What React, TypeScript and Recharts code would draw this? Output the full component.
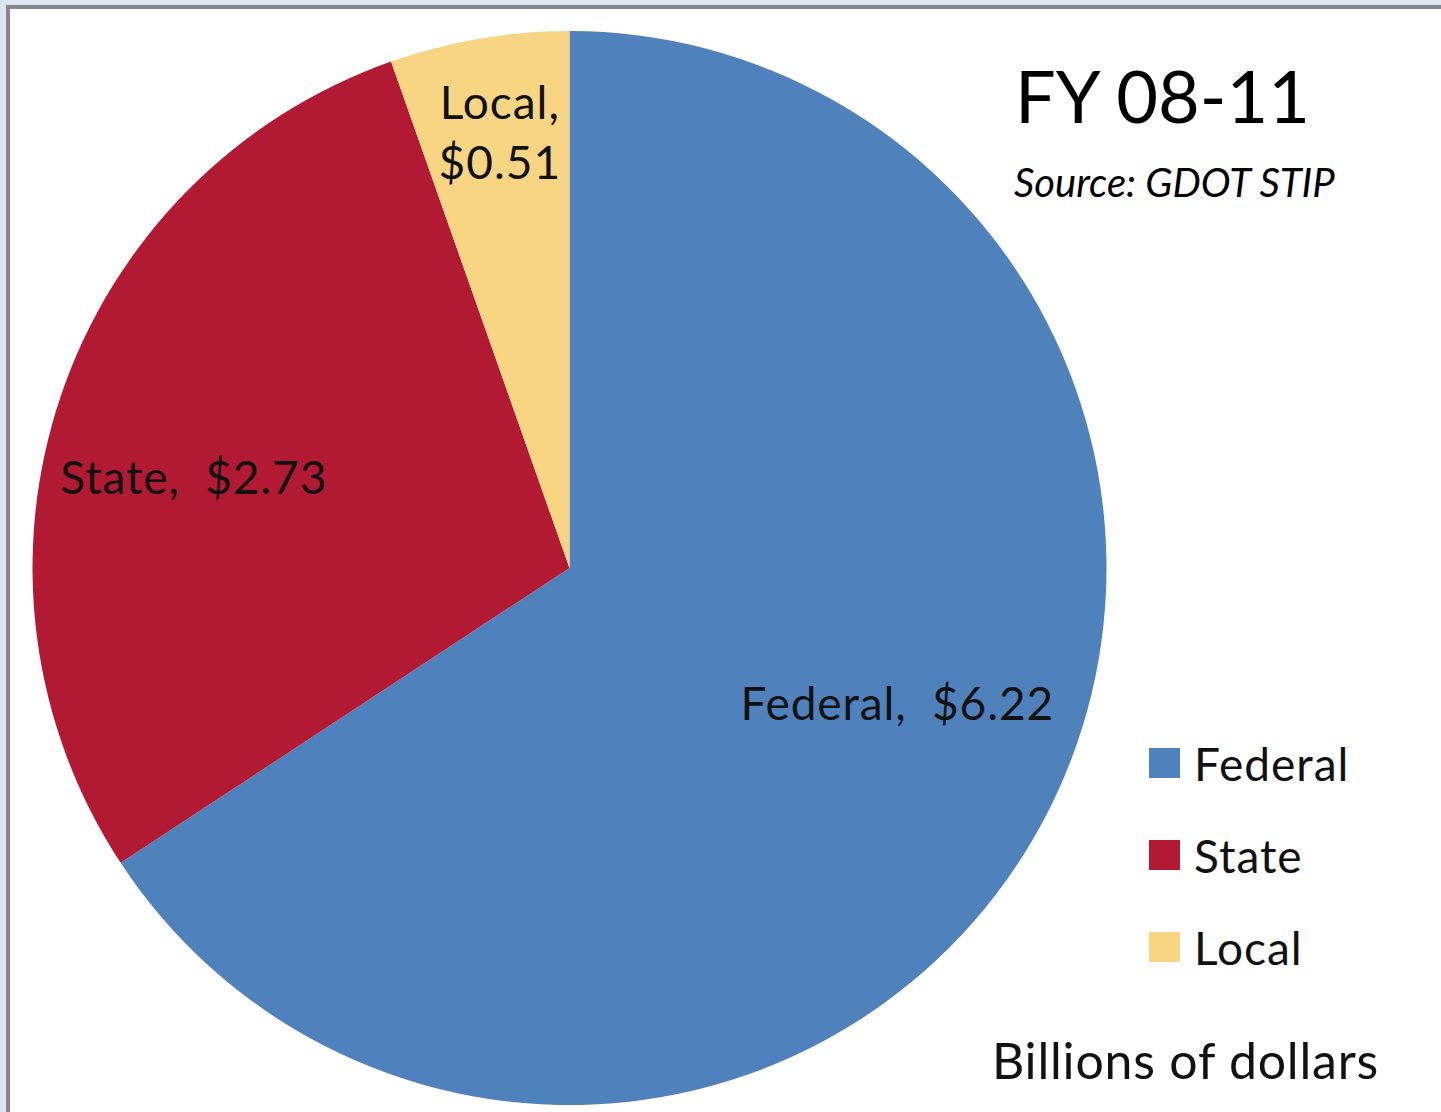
import { Cell, Legend, Pie, PieChart } from "recharts";

const categories = ["Federal", "State", "Local"];
const amounts = [6.22, 2.73, 0.51];
const sliceColors = ["#4f81bd", "#b11a32", "#f7d583"];

// label placement tweaks per slice (fraction of radius, angle nudge in degrees)
const labelRadius = [0.66, 0.72, 0.82];
const labelNudge = [6, 5, -0.6];

const chartData = categories.map((name, i) => ({ name, value: amounts[i] }));

const FONT = "Lato, 'Open Sans', sans-serif";
const RAD = Math.PI / 180;

const renderLabel = (props: any) => {
  const { cx, cy, midAngle, outerRadius, index, name, value } = props;
  const a = (midAngle + labelNudge[index]) * RAD;
  const r = outerRadius * labelRadius[index];
  const x = cx + r * Math.cos(a);
  const y = cy - r * Math.sin(a);
  const money = `$${value.toFixed(2)}`;
  if (name === "Local") {
    return (
      <text x={x} y={y} textAnchor="middle" fill="#111" fontSize={46} fontFamily={FONT} style={{ letterSpacing: 1 }}>
        <tspan x={x} dy={-14}>{`${name},`}</tspan>
        <tspan x={x} dy={60}>{money}</tspan>
      </text>
    );
  }
  return (
    <text
      x={x}
      y={y}
      textAnchor="middle"
      dominantBaseline="central"
      fill="#111"
      fontSize={46}
      fontFamily={FONT}
      style={{ letterSpacing: 0.9, whiteSpace: "pre" }}
    >
      {`${name},  ${money}`}
    </text>
  );
};

const renderLegend = () => (
  <div style={{ fontFamily: FONT }}>
    {categories.map((name, i) => (
      <div key={name} style={{ display: "flex", alignItems: "center", height: 92 }}>
        <div style={{ width: 31, height: 30, background: sliceColors[i], marginRight: 14 }} />
        <span style={{ fontSize: 46, color: "#111", letterSpacing: 1 }}>{name}</span>
      </div>
    ))}
  </div>
);

export default function App() {
  return (
    <div style={{ position: "fixed", left: 0, top: 0, width: 1441, height: 1112, background: "#dce6f2", overflow: "hidden" }}>
      <div
        style={{
          position: "absolute",
          left: 6,
          top: 5,
          width: 1460,
          height: 1130,
          borderLeft: "4px solid #888",
          borderTop: "4px solid #888",
          background: "#fff",
        }}
      />
      <div style={{ position: "absolute", left: 0, top: 0 }}>
        <PieChart width={1441} height={1112} margin={{ top: 0, right: 0, bottom: 0, left: 0 }}>
          <Pie
            data={chartData}
            dataKey="value"
            nameKey="name"
            cx={569.5}
            cy={568}
            outerRadius={537}
            startAngle={90}
            endAngle={-270}
            stroke="none"
            label={renderLabel}
            labelLine={false}
            isAnimationActive={false}
          >
            {chartData.map((d, i) => (
              <Cell key={d.name} fill={sliceColors[i]} />
            ))}
          </Pie>
          <Legend
            layout="vertical"
            content={renderLegend}
            wrapperStyle={{ position: "absolute", left: 1149, top: 717, width: 260, bottom: "auto", right: "auto" }}
          />
        </PieChart>
      </div>
      <div style={{ position: "absolute", left: 1015, top: 59, fontFamily: FONT, fontSize: 72, color: "#000", lineHeight: 1 }}>
        FY 08-11
      </div>
      <div style={{ position: "absolute", left: 1014, top: 162, fontFamily: FONT, fontSize: 40, fontStyle: "italic", color: "#000", lineHeight: 1 }}>
        Source: GDOT STIP
      </div>
      <div
        style={{
          position: "absolute",
          left: 992,
          top: 1035,
          fontFamily: FONT,
          fontSize: 50,
          color: "#111",
          lineHeight: 1,
          letterSpacing: 0.8,
        }}
      >
        Billions of dollars
      </div>
    </div>
  );
}
